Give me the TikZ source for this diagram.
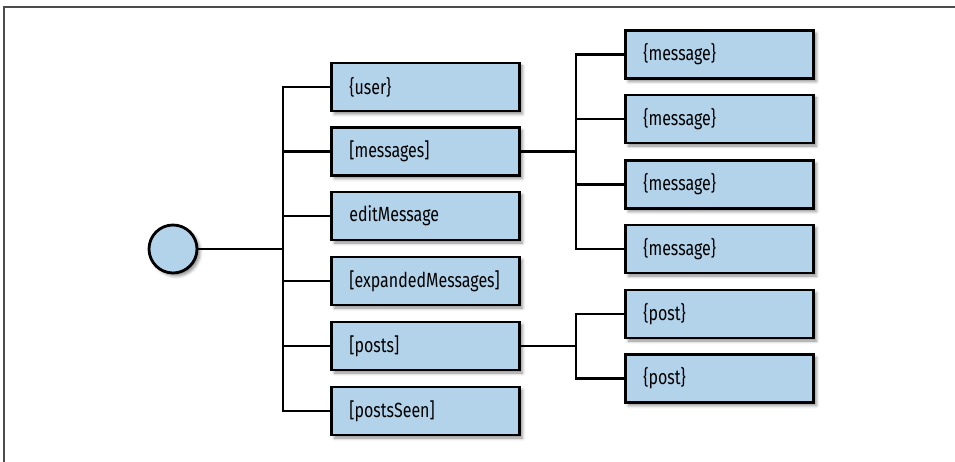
\documentclass[tikz,border=0pt]{standalone}
\usepackage{fontspec}
\setmainfont{Fira Sans}[FakeStretch=0.78]
\usetikzlibrary{shadows.blur}
\definecolor{boxblue}{RGB}{178,211,234}
\begin{document}
\begin{tikzpicture}
        [
            x=1pt, y=-1pt,
            line width=2.4pt,
            field/.style={draw, line width=2.8pt, fill=boxblue, anchor=west,
                minimum width=188pt, minimum height=48pt, inner xsep=16pt,
                text width=152pt, align=left, font=\fontsize{20.5}{23}\selectfont,
                blur shadow={shadow xshift=3pt, shadow yshift=-3pt, shadow blur radius=3pt, shadow opacity=45}},
            state/.style={circle, draw, line width=2.8pt, fill=boxblue, minimum size=48pt,
                blur shadow={shadow xshift=3pt, shadow yshift=-3pt, shadow blur radius=3pt, shadow opacity=45}}
        ]
        \useasboundingbox (0, 0) rectangle (955, 462);
        \draw[line width=1.4pt, black!70] (4, 462) -- (4, 7) -- (955, 7);

        % root and its fields
        \node[state] (root) at (173, 249) {};
        \node[field] (user) at (330, 87) {\{user\}};
        \node[field] (messages) at (330, 151.5) {[messages]};
        \node[field] (edit) at (330, 216) {editMessage};
        \node[field] (expanded) at (330, 281) {[expandedMessages]};
        \node[field] (posts) at (330, 346) {[posts]};
        \node[field] (seen) at (330, 411) {[postsSeen]};

        % list items
        \node[field] (msg1) at (624, 54.5) {\{message\}};
        \node[field] (msg2) at (624, 119) {\{message\}};
        \node[field] (msg3) at (624, 184.5) {\{message\}};
        \node[field] (msg4) at (624, 249) {\{message\}};
        \node[field] (post1) at (624, 314) {\{post\}};
        \node[field] (post2) at (624, 378.5) {\{post\}};

        \coordinate (trunk) at (283, 249);
        \coordinate (msgfork) at (576, 151.5);
        \coordinate (postfork) at (576, 346);

        \draw (root) -- (trunk);
        \draw (trunk) |- (user.west);
        \draw (trunk) |- (messages.west);
        \draw (trunk) |- (edit.west);
        \draw (trunk) |- (expanded.west);
        \draw (trunk) |- (posts.west);
        \draw (trunk) |- (seen.west);

        \draw (messages) -- (msgfork);
        \draw (msgfork) |- (msg1.west);
        \draw (msgfork) |- (msg2.west);
        \draw (msgfork) |- (msg3.west);
        \draw (msgfork) |- (msg4.west);

        \draw (posts) -- (postfork);
        \draw (postfork) |- (post1.west);
        \draw (postfork) |- (post2.west);
    \end{tikzpicture}
\end{document}
